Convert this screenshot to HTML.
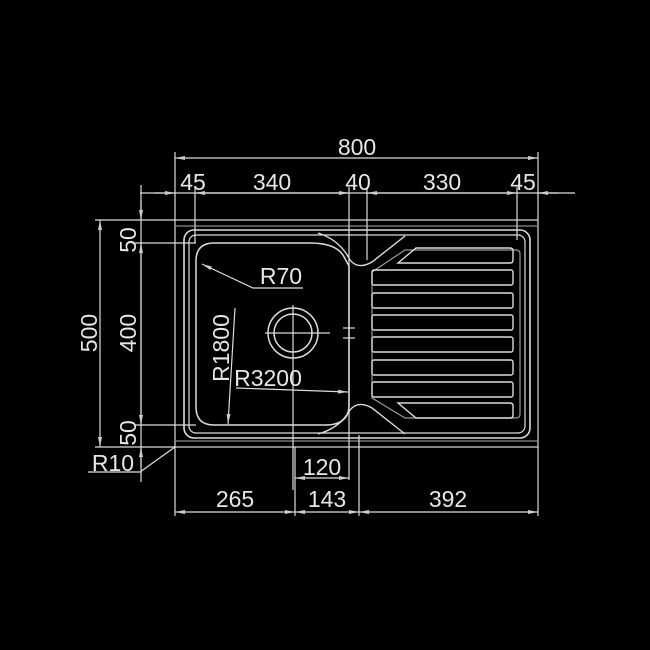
<!DOCTYPE html>
<html><head><style>html,body{margin:0;padding:0;background:#000}svg{display:block}</style></head>
<body>
<svg width="650" height="650" viewBox="0 0 650 650" xmlns="http://www.w3.org/2000/svg">
<rect width="650" height="650" fill="#000"/>
<defs>
<marker id="a" viewBox="0 0 10 4" refX="10" refY="2" markerWidth="10" markerHeight="4" orient="auto-start-reverse" markerUnits="userSpaceOnUse"><path d="M0,0 L10,2 L0,4z" fill="#ccc"/></marker>
</defs>
<g stroke="#dcdcdc" stroke-width="1.2" fill="none">
<rect x="175" y="220" width="363" height="227"/>
<line x1="175" y1="226" x2="538" y2="226" stroke="#888"/>
<line x1="175" y1="441" x2="538" y2="441" stroke="#888"/>
<rect x="184" y="230" width="346" height="208" rx="10" stroke-width="1.6"/>
<rect x="189" y="235" width="336" height="198" rx="7"/>
<path d="M214,243 H310 Q335,243 343,255 L349,266 V405 Q349,425 325,425 H214 Q196,425 196,407 V261 Q196,243 214,243Z" stroke-width="1.5"/>
<path d="M318,233 Q340,240 350,260 Q358,270 372,262 L405,236" stroke-width="1.4"/>
<path d="M318,434 Q340,428 350,410 Q358,400 372,408 L405,434" stroke-width="1.4"/>
<path d="M372,272 L405,250 H516 Q520,250 520,254 V414 Q520,418 516,418 H405 L372,398 Z" stroke="#999"/>
<g stroke-width="1.4">
<path d="M398,263 L416,248 H510 Q513,248 513,251 V260 Q513,263 510,263 Z"/>
<rect x="372" y="270" width="141" height="15" rx="2"/>
<rect x="372" y="293" width="141" height="15" rx="2"/>
<rect x="372" y="315" width="141" height="15" rx="2"/>
<rect x="372" y="337" width="141" height="15" rx="2"/>
<rect x="372" y="360" width="141" height="15" rx="2"/>
<rect x="372" y="382" width="141" height="15" rx="2"/>
<path d="M398,403 L416,418 H510 Q513,418 513,415 V406 Q513,403 510,403 Z"/>
</g>
<circle cx="293" cy="333" r="25" stroke-width="1.5"/>
<circle cx="293" cy="333" r="19" stroke-width="1.5"/>
<line x1="265" y1="333" x2="330" y2="333"/>
<line x1="293" y1="305" x2="293" y2="490"/>
<line x1="343" y1="328" x2="355" y2="328"/><line x1="343" y1="338" x2="355" y2="338"/>
<line x1="175" y1="152" x2="175" y2="220"/>
<line x1="538" y1="152" x2="538" y2="220"/>
<line x1="195" y1="187" x2="195" y2="243"/>
<line x1="349" y1="187" x2="349" y2="480"/>
<line x1="367" y1="187" x2="367" y2="260"/>
<line x1="517" y1="187" x2="517" y2="240"/>
<line x1="175" y1="158" x2="538" y2="158" marker-start="url(#a)" marker-end="url(#a)"/>
<line x1="140" y1="193" x2="575" y2="193"/>
<line x1="155" y1="193" x2="175" y2="193" marker-end="url(#a)"/>
<line x1="195" y1="193" x2="349" y2="193" marker-start="url(#a)" marker-end="url(#a)"/>
<line x1="367" y1="193" x2="517" y2="193" marker-start="url(#a)" marker-end="url(#a)"/>
<line x1="558" y1="193" x2="538" y2="193" marker-end="url(#a)"/>
<line x1="95" y1="220" x2="175" y2="220"/>
<line x1="135" y1="243" x2="196" y2="243"/>
<line x1="135" y1="425" x2="196" y2="425"/>
<line x1="95" y1="447" x2="175" y2="447"/>
<line x1="100" y1="220" x2="100" y2="447" marker-start="url(#a)" marker-end="url(#a)"/>
<line x1="141" y1="185" x2="141" y2="482"/>
<line x1="141" y1="200" x2="141" y2="220" marker-end="url(#a)"/>
<line x1="141" y1="243" x2="141" y2="425" marker-start="url(#a)" marker-end="url(#a)"/>
<line x1="141" y1="467" x2="141" y2="447" marker-end="url(#a)"/>
<path d="M88,472 H140 L175,447" />
<path d="M303,288 H253 L202,264" marker-end="url(#a)"/>
<line x1="235" y1="308" x2="228" y2="424" marker-end="url(#a)"/>
<line x1="236" y1="388" x2="348" y2="392" marker-end="url(#a)"/>
<line x1="175" y1="447" x2="175" y2="516"/>
<line x1="295" y1="447" x2="295" y2="516"/>
<line x1="359" y1="435" x2="359" y2="516"/>
<line x1="538" y1="447" x2="538" y2="516"/>
<line x1="295" y1="478" x2="349" y2="478" marker-start="url(#a)" marker-end="url(#a)"/>
<line x1="175" y1="512" x2="295" y2="512" marker-start="url(#a)" marker-end="url(#a)"/>
<line x1="295" y1="512" x2="359" y2="512" marker-start="url(#a)" marker-end="url(#a)"/>
<line x1="359" y1="512" x2="538" y2="512" marker-start="url(#a)" marker-end="url(#a)"/>
</g>
<g fill="#e6e6e6" font-family="'Liberation Sans',sans-serif" font-size="23" text-anchor="middle">
<text x="357" y="155">800</text>
<text x="193" y="190">45</text>
<text x="272" y="190">340</text>
<text x="358" y="190">40</text>
<text x="442" y="190">330</text>
<text x="523" y="190">45</text>
<text x="281" y="284">R70</text>
<text x="268" y="386">R3200</text>
<text x="113" y="471">R10</text>
<text x="322" y="475">120</text>
<text x="235" y="507">265</text>
<text x="327" y="507">143</text>
<text x="448" y="507">392</text>
<text transform="translate(97,333) rotate(-90)">500</text>
<text transform="translate(136,240) rotate(-90)">50</text>
<text transform="translate(136,333) rotate(-90)">400</text>
<text transform="translate(136,433) rotate(-90)">50</text>
<text transform="translate(229,348) rotate(-90)">R1800</text>
</g>
</svg>
</body></html>
